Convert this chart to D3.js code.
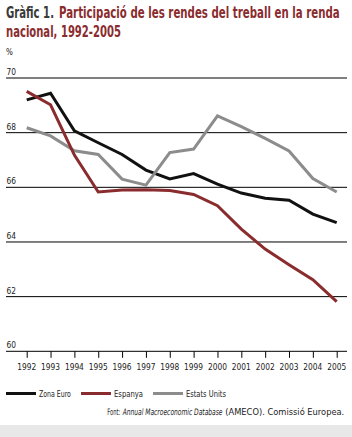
<!DOCTYPE html>
<html><head><meta charset="utf-8">
<script src="https://cdn.jsdelivr.net/npm/d3@7"></script>
<style>
body{margin:0;background:#fff;}
svg{display:block;}
text{font-family:"DejaVu Sans Condensed","Liberation Sans Narrow","Roboto",sans-serif;font-stretch:condensed;}
</style></head><body>
<svg id="c" width="352" height="437"></svg>
<script>
const years = [1992,1993,1994,1995,1996,1997,1998,1999,2000,2001,2002,2003,2004,2005];
const zonaEuro = [69.2,69.44,68.07,67.63,67.2,66.63,66.31,66.5,66.12,65.79,65.6,65.53,65.02,64.71];
const espanya = [69.51,69.02,67.18,65.83,65.9,65.91,65.88,65.74,65.33,64.47,63.74,63.17,62.62,61.82];
const estatsUnits = [68.18,67.88,67.34,67.2,66.3,66.08,67.27,67.4,68.61,68.22,67.79,67.33,66.32,65.83];
const yTicks = [60,62,64,66,68,70];
const seriesNames = ["Zona Euro","Espanya","Estats Units"];
const colors = ["#111111","#8a2c2e","#8c8c8c"];

const svg = d3.select("#c");
const x = d3.scalePoint().domain(years).range([26.7,336.7]);
const y = d3.scaleLinear().domain([60,70]).range([351.3,78]);

svg.append("rect").attr("x",0).attr("y",425).attr("width",352).attr("height",12).attr("fill","#e8e8e8");

// text squeezed horizontally with a transform so its box matches the target width
function txt(xp, yp, s, opts, parent){
  const gg = (parent||svg).append("g");
  const t = gg.append("text").attr("x",0).attr("y",0).text(s)
    .attr("font-size",opts.size).attr("fill",opts.fill||"#222");
  if(opts.bold) t.attr("font-weight","bold");
  if(opts.italic) t.attr("font-style","italic");
  let sx = 1;
  if(opts.len){ const w = t.node().getComputedTextLength(); if(w>0) sx = opts.len/w; }
  let x0 = xp;
  if(opts.anchor==="middle") x0 = xp - (opts.len||0)/2;
  gg.attr("transform",`translate(${x0},${yp}) scale(${sx},1)`);
  return t;
}

// title
txt(6,18,"Gràfic 1.",{size:15,bold:true,fill:"#3a3a3a",len:48});
txt(59,18,"Participació de les rendes del treball en la renda",{size:15,bold:true,fill:"#8a2c2e",len:281});
txt(6,37,"nacional, 1992-2005",{size:15,bold:true,fill:"#8a2c2e",len:115});
txt(6,55,"%",{size:8});

// gridlines
const g = svg.append("g");
yTicks.forEach(v=>{
  g.append("line").attr("x1",6).attr("x2",347).attr("y1",y(v)).attr("y2",y(v)).attr("stroke","#000").attr("stroke-width",1);
  txt(6.5,y(v)-3,String(v),{size:9,len:9.5},g);
});

// x axis
const xa = svg.append("g").attr("transform",`translate(0,${y(60)})`)
  .call(d3.axisBottom(x).tickSize(6.5).tickPadding(5));
xa.select(".domain").remove();
xa.selectAll("text").remove();
xa.selectAll("line").attr("stroke","#000");
years.forEach(yr=>{
  txt(x(yr), y(60)+19, String(yr), {size:9.5,len:19,anchor:"middle"});
});

// lines
const line = d3.line().x((d,i)=>x(years[i])).y(d=>y(d));
[[zonaEuro,0],[estatsUnits,2],[espanya,1]].forEach(([s,idx])=>{
  svg.append("path").attr("d",line(s)).attr("fill","none").attr("stroke",colors[idx]).attr("stroke-width",3).attr("stroke-linejoin","miter");
});

// legend
const lx = [6,81,153];
const lw = [32,29,40];
seriesNames.forEach((n,i)=>{
  svg.append("rect").attr("x",lx[i]).attr("y",392).attr("width",30).attr("height",3).attr("fill",colors[i]);
  txt(lx[i]+33,397,n,{size:9.5,len:lw[i]});
});

// source
txt(107.3,415,"Font:",{size:9,len:13});
txt(122.7,415,"Annual Macroeconomic Database",{size:9,italic:true,len:100});
txt(225.3,415,"(AMECO). Comissió Europea.",{size:9,len:119});
</script>
</body></html>
